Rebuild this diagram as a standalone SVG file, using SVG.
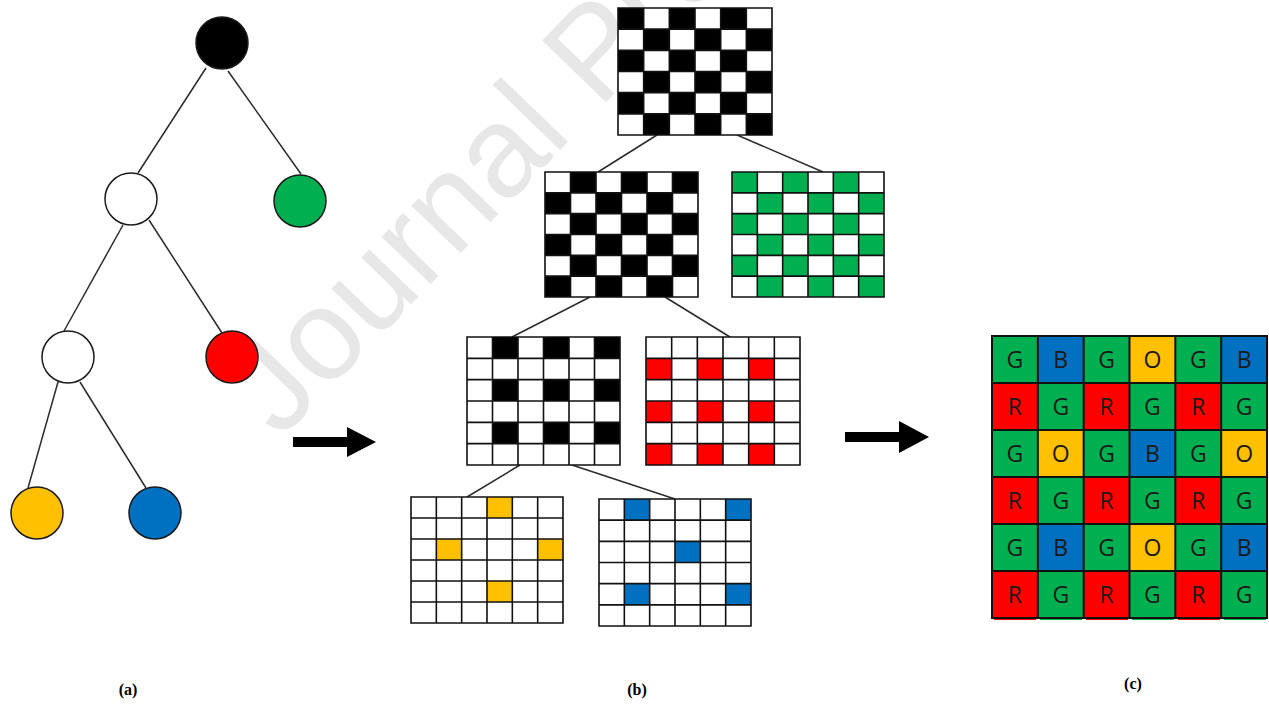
<svg xmlns="http://www.w3.org/2000/svg" width="1269" height="704" viewBox="0 0 1269 704">
  <style>
    .edge { stroke: #2b2b2b; stroke-width: 1.5; fill: none; }
    .node { stroke: #1a1a1a; stroke-width: 1.5; }
    .cells { fill: #ffffff; }
    .lines { fill: none; stroke: #111; stroke-width: 1.6; }
    .lines-c { fill: none; stroke: #111; stroke-width: 2; }
    .arrow { fill: #000; }
    .cap { font-family: "Liberation Serif", serif; font-weight: bold; font-size: 16px; fill: #000; text-anchor: middle; }
    .lbl { font-family: "Open Sans", "Noto Sans", sans-serif; font-size: 23px; fill: #1a1a1a; text-anchor: middle; }
    .mark { font-family: "Liberation Sans", sans-serif; font-size: 129px; fill: #e7e7e7; }
  </style>
  <defs>
    <!-- 6x6 unit grid; groups scale it to each panel's size, the stroke stays thin -->
    <path id="grid6" vector-effect="non-scaling-stroke" d="M0 0H6V6H0Z M1 0V6 M2 0V6 M3 0V6 M4 0V6 M5 0V6 M0 1H6 M0 2H6 M0 3H6 M0 4H6 M0 5H6"/>
    <!-- checkerboard cells where row+col is even -->
    <path id="chkEven" d="M0 0h1v1h-1z M2 0h1v1h-1z M4 0h1v1h-1z M1 1h1v1h-1z M3 1h1v1h-1z M5 1h1v1h-1z M0 2h1v1h-1z M2 2h1v1h-1z M4 2h1v1h-1z M1 3h1v1h-1z M3 3h1v1h-1z M5 3h1v1h-1z M0 4h1v1h-1z M2 4h1v1h-1z M4 4h1v1h-1z M1 5h1v1h-1z M3 5h1v1h-1z M5 5h1v1h-1z"/>
    <!-- checkerboard cells where row+col is odd -->
    <path id="chkOdd" d="M1 0h1v1h-1z M3 0h1v1h-1z M5 0h1v1h-1z M0 1h1v1h-1z M2 1h1v1h-1z M4 1h1v1h-1z M1 2h1v1h-1z M3 2h1v1h-1z M5 2h1v1h-1z M0 3h1v1h-1z M2 3h1v1h-1z M4 3h1v1h-1z M1 4h1v1h-1z M3 4h1v1h-1z M5 4h1v1h-1z M0 5h1v1h-1z M2 5h1v1h-1z M4 5h1v1h-1z"/>
  </defs>

  <rect width="1269" height="704" fill="#ffffff"/>

  <!-- background watermark -->
  <text class="mark" transform="translate(280,440) rotate(-46)">Journal Pre-proof</text>

  <!-- connectors -->
  <g id="connectors">
    <line class="edge" x1="206" y1="68" x2="138" y2="173"/>
    <line class="edge" x1="228" y1="71" x2="301" y2="174"/>
    <line class="edge" x1="123" y1="225" x2="64" y2="331"/>
    <line class="edge" x1="149" y1="220" x2="222" y2="333"/>
    <line class="edge" x1="58" y1="382" x2="28" y2="488"/>
    <line class="edge" x1="80" y1="382" x2="146" y2="488"/>

    <line class="edge" x1="657" y1="135" x2="598" y2="172"/>
    <line class="edge" x1="737" y1="135" x2="823" y2="172"/>
    <line class="edge" x1="590" y1="297" x2="512" y2="337"/>
    <line class="edge" x1="665" y1="297" x2="730" y2="337"/>
    <line class="edge" x1="520" y1="465" x2="467" y2="497"/>
    <line class="edge" x1="572" y1="465" x2="675" y2="499"/>
  </g>

  <!-- (a) tree -->
  <g id="tree-root"><circle class="node" cx="222" cy="43" r="26" fill="#000000"/></g>
  <g id="tree-n1"><circle class="node" cx="131" cy="199" r="26" fill="#ffffff"/></g>
  <g id="tree-green"><circle class="node" cx="300" cy="201" r="26" fill="#00B050"/></g>
  <g id="tree-n2"><circle class="node" cx="68" cy="357" r="26" fill="#ffffff"/></g>
  <g id="tree-red"><circle class="node" cx="232" cy="357" r="26" fill="#FF0000"/></g>
  <g id="tree-yellow"><circle class="node" cx="37" cy="513" r="26" fill="#FFC000"/></g>
  <g id="tree-blue"><circle class="node" cx="155" cy="513" r="26" fill="#0070C0"/></g>

  <!-- (b) masks -->
  <g id="grid-all" transform="translate(618,8) scale(25.667,21.167)">
    <rect class="cells" width="6" height="6"/>
    <use href="#chkEven" fill="#000"/>
    <use href="#grid6" class="lines"/>
  </g>
  <g id="grid-rest" transform="translate(545,172) scale(25.5,20.833)">
    <rect class="cells" width="6" height="6"/>
    <use href="#chkOdd" fill="#000"/>
    <use href="#grid6" class="lines"/>
  </g>
  <g id="grid-green" transform="translate(732,172) scale(25.333,20.833)">
    <rect class="cells" width="6" height="6"/>
    <use href="#chkEven" fill="#00B050"/>
    <use href="#grid6" class="lines"/>
  </g>
  <g id="grid-rest2" transform="translate(467,337) scale(25.5,21.333)">
    <rect class="cells" width="6" height="6"/>
    <path fill="#000" d="M1 0h1v1h-1z M3 0h1v1h-1z M5 0h1v1h-1z M1 2h1v1h-1z M3 2h1v1h-1z M5 2h1v1h-1z M1 4h1v1h-1z M3 4h1v1h-1z M5 4h1v1h-1z"/>
    <use href="#grid6" class="lines"/>
  </g>
  <g id="grid-red" transform="translate(646,337) scale(25.667,21.333)">
    <rect class="cells" width="6" height="6"/>
    <path fill="#FF0000" d="M0 1h1v1h-1z M2 1h1v1h-1z M4 1h1v1h-1z M0 3h1v1h-1z M2 3h1v1h-1z M4 3h1v1h-1z M0 5h1v1h-1z M2 5h1v1h-1z M4 5h1v1h-1z"/>
    <use href="#grid6" class="lines"/>
  </g>
  <g id="grid-yellow" transform="translate(411,497) scale(25.333,21)">
    <rect class="cells" width="6" height="6"/>
    <path fill="#FFC000" d="M3 0h1v1h-1z M1 2h1v1h-1z M5 2h1v1h-1z M3 4h1v1h-1z"/>
    <use href="#grid6" class="lines"/>
  </g>
  <g id="grid-blue" transform="translate(599,499) scale(25.333,21.167)">
    <rect class="cells" width="6" height="6"/>
    <path fill="#0070C0" d="M1 0h1v1h-1z M5 0h1v1h-1z M3 2h1v1h-1z M1 4h1v1h-1z M5 4h1v1h-1z"/>
    <use href="#grid6" class="lines"/>
  </g>

  <!-- arrows -->
  <g id="arrows">
    <polygon class="arrow" points="293,437 347,437 347,427 376,442 347,457 347,447 293,447"/>
    <polygon class="arrow" points="845,432 899,432 899,421 929,437 899,453 899,442 845,442"/>
  </g>

  <!-- (c) mosaic -->
  <g id="mosaic">
    <!-- thin colour strips showing below the bottom row -->
    <g>
      <rect x="994" y="618" width="42" height="2" fill="#FF0000"/>
      <rect x="1040" y="618" width="42" height="2" fill="#00B050"/>
      <rect x="1086" y="618" width="42" height="2" fill="#FF0000"/>
      <rect x="1132" y="618" width="42" height="2" fill="#00B050"/>
      <rect x="1178" y="618" width="42" height="2" fill="#FF0000"/>
      <rect x="1224" y="618" width="42" height="2" fill="#00B050"/>
    </g>
    <g transform="translate(992,336) scale(45.833,47)">
      <rect width="6" height="6" fill="#00B050"/>
      <path fill="#FF0000" d="M0 1h1v1h-1z M2 1h1v1h-1z M4 1h1v1h-1z M0 3h1v1h-1z M2 3h1v1h-1z M4 3h1v1h-1z M0 5h1v1h-1z M2 5h1v1h-1z M4 5h1v1h-1z"/>
      <path fill="#0070C0" d="M1 0h1v1h-1z M5 0h1v1h-1z M3 2h1v1h-1z M1 4h1v1h-1z M5 4h1v1h-1z"/>
      <path fill="#FFC000" d="M3 0h1v1h-1z M1 2h1v1h-1z M5 2h1v1h-1z M3 4h1v1h-1z"/>
      <use href="#grid6" class="lines-c"/>
    </g>
    <g class="lbl">
      <text x="1014.9" y="368">G</text><text x="1060.8" y="368">B</text><text x="1106.6" y="368">G</text><text x="1152.4" y="368">O</text><text x="1198.3" y="368">G</text><text x="1244.1" y="368">B</text>
      <text x="1014.9" y="415">R</text><text x="1060.8" y="415">G</text><text x="1106.6" y="415">R</text><text x="1152.4" y="415">G</text><text x="1198.3" y="415">R</text><text x="1244.1" y="415">G</text>
      <text x="1014.9" y="462">G</text><text x="1060.8" y="462">O</text><text x="1106.6" y="462">G</text><text x="1152.4" y="462">B</text><text x="1198.3" y="462">G</text><text x="1244.1" y="462">O</text>
      <text x="1014.9" y="509">R</text><text x="1060.8" y="509">G</text><text x="1106.6" y="509">R</text><text x="1152.4" y="509">G</text><text x="1198.3" y="509">R</text><text x="1244.1" y="509">G</text>
      <text x="1014.9" y="556">G</text><text x="1060.8" y="556">B</text><text x="1106.6" y="556">G</text><text x="1152.4" y="556">O</text><text x="1198.3" y="556">G</text><text x="1244.1" y="556">B</text>
      <text x="1014.9" y="603">R</text><text x="1060.8" y="603">G</text><text x="1106.6" y="603">R</text><text x="1152.4" y="603">G</text><text x="1198.3" y="603">R</text><text x="1244.1" y="603">G</text>
    </g>
  </g>

  <!-- captions -->
  <text class="cap" x="128" y="695">(a)</text>
  <text class="cap" x="637" y="695">(b)</text>
  <text class="cap" x="1133" y="689">(c)</text>
</svg>
